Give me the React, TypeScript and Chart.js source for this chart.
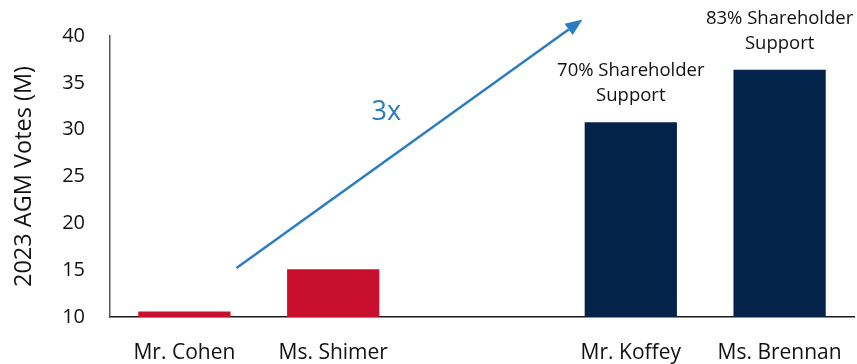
import React, { useEffect, useRef } from "react";
import { Chart, registerables } from "chart.js";

Chart.register(...registerables);

const categories = ["Mr. Cohen", "Ms. Shimer", "", "Mr. Koffey", "Ms. Brennan"];
const votes = [10.6, 15.1, null, 30.8, 36.4];
const barColors = ["#C8102E", "#C8102E", "#C8102E", "#03234A", "#03234A"];
const supportLabels = ["", "", "", "70% Shareholder\nSupport", "83% Shareholder\nSupport"];
const yTicks = { min: 10, max: 40, step: 5 };
const yTitle = "2023 AGM Votes (M)";
// arrow in data coordinates (category index, value)
const arrowFrom = [0.35, 15.24];
const arrowTo = [2.675, 41.76];
const arrowLabel = "3x";
const arrowLabelAt = [1.357, 31.9];

const FONT = "'Open Sans', sans-serif";
const BLUE = "#2A7DC0";
const TEXT = "#111111";

const overlayPlugin = {
  id: "overlay",
  afterDatasetsDraw(chart: any) {
    const { ctx, scales } = chart;
    const xs = scales.x;
    const ys = scales.y;
    const meta = chart.getDatasetMeta(0);
    ctx.save();
    ctx.fillStyle = TEXT;
    ctx.font = `18.5px ${FONT}`;
    ctx.textAlign = "center";
    ctx.textBaseline = "middle";
    supportLabels.forEach((lbl, i) => {
      if (!lbl) return;
      const el = meta.data[i];
      if (!el) return;
      const lines = lbl.split("\n");
      lines.forEach((ln, j) => {
        const off = (lines.length - j) * 25 + 1;
        ctx.fillText(ln, el.x, el.y - off);
      });
    });
    const x1 = xs.getPixelForValue(arrowFrom[0]);
    const y1 = ys.getPixelForValue(arrowFrom[1]);
    const x2 = xs.getPixelForValue(arrowTo[0]);
    const y2 = ys.getPixelForValue(arrowTo[1]);
    const ang = Math.atan2(y2 - y1, x2 - x1);
    const headLen = 17;
    const headW = 7;
    const bx = x2 - headLen * Math.cos(ang);
    const by = y2 - headLen * Math.sin(ang);
    ctx.strokeStyle = BLUE;
    ctx.fillStyle = BLUE;
    ctx.lineWidth = 2.5;
    ctx.beginPath();
    ctx.moveTo(x1, y1);
    ctx.lineTo(bx, by);
    ctx.stroke();
    ctx.beginPath();
    ctx.moveTo(x2, y2);
    ctx.lineTo(bx + headW * Math.sin(ang), by - headW * Math.cos(ang));
    ctx.lineTo(bx - headW * Math.sin(ang), by + headW * Math.cos(ang));
    ctx.closePath();
    ctx.fill();
    ctx.font = `27px ${FONT}`;
    ctx.fillStyle = BLUE;
    ctx.fillText(arrowLabel, xs.getPixelForValue(arrowLabelAt[0]), ys.getPixelForValue(arrowLabelAt[1]));
    ctx.restore();
  },
};

export default function App() {
  const ref = useRef<HTMLCanvasElement | null>(null);
  useEffect(() => {
    if (!ref.current) return;
    const chart = new Chart(ref.current, {
      type: "bar",
      data: {
        labels: categories,
        datasets: [
          {
            data: votes as any,
            backgroundColor: barColors,
            borderWidth: 0,
            barPercentage: 0.62,
            categoryPercentage: 1,
          },
        ],
      },
      options: {
        animation: false,
        responsive: false,
        maintainAspectRatio: false,
        layout: { padding: { top: 36, right: 3, left: 0, bottom: 0 } },
        plugins: { legend: { display: false }, tooltip: { enabled: false } },
        scales: {
          x: {
            grid: { display: false, drawTicks: false },
            border: { display: true, color: "#1a1a1a", width: 1.5 },
            ticks: { color: TEXT, font: { family: FONT, size: 21 }, padding: 23, maxRotation: 0, autoSkip: false },
            afterFit: (s: any) => { s.height = 47; s.paddingLeft = 0; s.paddingRight = 0; },
          },
          y: {
            min: yTicks.min,
            max: yTicks.max,
            grid: { display: false, drawTicks: false },
            border: { display: true, color: "#595959", width: 1.5 },
            ticks: { stepSize: yTicks.step, color: TEXT, font: { family: FONT, size: 20 }, padding: 25 },
            title: { display: true, text: yTitle, color: TEXT, font: { family: FONT, size: 23.5 }, padding: { top: 10, bottom: 0 } },
            afterFit: (s: any) => { s.width = 110; s.paddingTop = 0; s.paddingBottom = 0; },
          },
        },
      },
      plugins: [overlayPlugin],
    });
    return () => chart.destroy();
  }, []);
  return (
    <div style={{ position: "fixed", left: 0, top: 0, width: 857, height: 364, background: "#fff" }}>
      <canvas ref={ref} width={857} height={364} style={{ display: "block", width: 857, height: 364 }} />
    </div>
  );
}
